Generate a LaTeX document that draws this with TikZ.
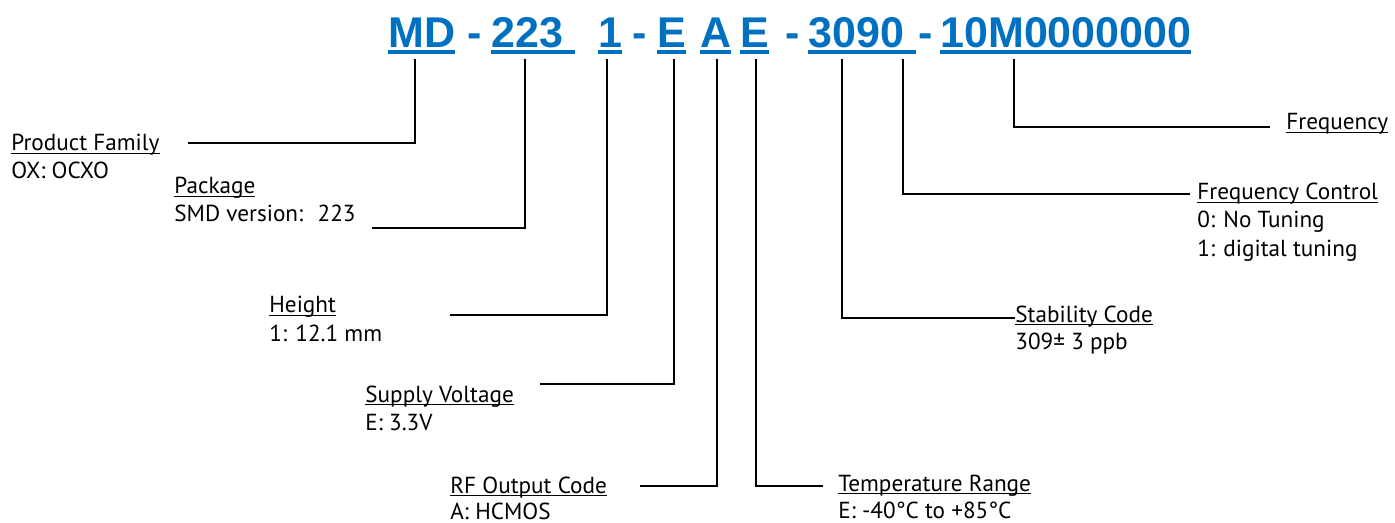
\documentclass[tikz,border=0pt]{standalone}
\usepackage{fontspec}
\setmainfont{PT Sans}
\newfontfamily\codefont{Liberation Sans}
\usetikzlibrary{positioning}

\definecolor{codeblue}{RGB}{0,112,192}
\newcommand\codeul[1]{\setbox0=\hbox{#1}\rlap{\rule[-3pt]{\wd0}{2.2pt}}\box0}
\newcommand\lab[1]{\underline{\smash{#1}}}

\tikzset{
  code/.style={inner sep=0pt, anchor=base west, text=codeblue, font=\codefont\bfseries\fontsize{21.5}{24}\selectfont},
  lab/.style={inner sep=0pt, anchor=base west, font=\fontsize{11.6}{14}\selectfont},
  lead/.style={line width=1.2pt, shorten >=2.5pt, line join=miter}
}

\begin{document}
\begin{tikzpicture}[x=0.5pt,y=-0.5pt]
\useasboundingbox (0,0) rectangle (1395,523);

\node[code] (md) at (388,48) {\codeul{MD}};
\node[code] (d1) at (467,48) {-};
\node[code] (pk) at (491,48) {\codeul{223\ }};
\node[code] (ht) at (598,48) {\codeul{1}};
\node[code] (d2) at (632,48) {-};
\node[code] (sv) at (657,48) {\codeul{E}};
\node[code] (rf) at (700,48) {\codeul{A}};
\node[code] (tr) at (740,48) {\codeul{E}};
\node[code] (d3) at (785,48) {-};
\node[code] (sc) at (808,48) {\codeul{3090\ }};
\node[code] (d4) at (918,48) {-};
\node[code] (fq) at (940,48) {\codeul{10M0000000}};

\node[lab] (pf-t) at (11,151) {\lab{Product Family}};
\node[lab] (pf-d) at (11,179) {OX: OCXO};
\node[lab] (pk-t) at (174,194) {\lab{Package}};
\node[lab] (pk-d) at (174,222) {SMD version:~ 223};
\node[lab] (ht-t) at (269,313) {\lab{Height}};
\node[lab] (ht-d) at (269,341) {1: 12.1 mm};
\node[lab] (sv-t) at (365,402) {\lab{Supply Voltage}};
\node[lab] (sv-d) at (365,430) {E: 3.3V};
\node[lab] (rf-t) at (450,493) {\lab{RF Output Code}};
\node[lab] (rf-d) at (450,519) {A: HCMOS};
\node[lab] (tr-t) at (838,491) {\lab{Temperature Range}};
\node[lab] (tr-d) at (838,518) {E: -40°C to +85°C};
\node[lab] (sc-t) at (1015,322) {\lab{Stability Code}};
\node[lab] (sc-d) at (1015,350) {309± 3 ppb};
\node[lab] (fc-t) at (1197,200) {\lab{Frequency Control}};
\node[lab] (fc-d) at (1197,228) {0: No Tuning};
\node[lab] (fc-e) at (1197,257) {1: digital tuning};
\node[lab] (fq-t) at (1286,130) {\lab{Frequency}};

\coordinate (pf-end) at (188,143);
\coordinate (pk-end) at (372,228);
\coordinate (ht-end) at (450,315);
\coordinate (sv-end) at (540,384);
\coordinate (rf-end) at (640,486);
\coordinate (tr-end) at (823,486);
\coordinate (sc-end) at (1015,318);
\coordinate (fc-end) at (1190,194);
\coordinate (fq-end) at (1270,127);

\draw[lead] (pf-end) -| (415,0 |- md.south);
\draw[lead] (pk-end) -| (525,0 |- pk.south);
\draw[lead] (ht-end) -| (607,0 |- ht.south);
\draw[lead] (sv-end) -| (674,0 |- sv.south);
\draw[lead] (rf-end) -| (717,0 |- rf.south);
\draw[lead] (tr-end) -| (756,0 |- tr.south);
\draw[lead] (sc-end) -| (842,0 |- sc.south);
\draw[lead] (fc-end) -| (903,0 |- sc.south);
\draw[lead] (fq-end) -| (1014,0 |- fq.south);
\end{tikzpicture}
\end{document}
